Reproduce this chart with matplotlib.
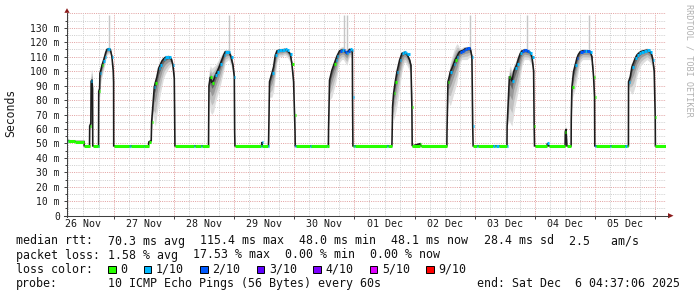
import numpy as np
import matplotlib
matplotlib.use("Agg")
import matplotlib.pyplot as plt
from matplotlib.collections import LineCollection
from matplotlib.patches import Rectangle, Polygon
from matplotlib.lines import Line2D

# ---------------- data (time in days since 26 Nov 00:00) ----------------
t = [0.226, 0.245, 0.364, 0.508, 0.512, 0.600, 0.603, 0.622, 0.627, 0.640, 0.650, 0.654,
     0.735, 0.745, 0.750,
     0.753, 0.768, 0.773, 0.790, 0.806, 0.830, 0.851, 0.870, 0.889, 0.915, 0.945, 0.972, 0.994, 1.000,
     1.002, 1.250, 1.262, 1.277, 1.290, 1.499, 1.512, 1.580,
     1.583, 1.585, 1.625, 1.632, 1.660, 1.676, 1.693, 1.720, 1.748, 1.776, 1.803, 1.830, 1.859, 1.914,
     1.958, 1.986, 2.008, 2.016,
     2.019, 2.340, 2.352, 2.450, 2.462, 2.577,
     2.580, 2.584, 2.606, 2.630, 2.661, 2.690, 2.717, 2.745, 2.772, 2.800, 2.827, 2.855, 2.911, 2.930,
     2.949, 2.983, 3.005, 3.011,
     3.016, 3.450, 3.458, 3.462, 3.472, 3.560, 3.572,
     3.575, 3.590, 3.630, 3.658, 3.686, 3.713, 3.750, 3.796, 3.840, 3.879, 3.910, 3.935, 3.962, 3.990,
     4.006, 4.014,
     4.017, 4.030, 4.270, 4.282, 4.540, 4.552, 4.568,
     4.571, 4.587, 4.626, 4.664, 4.690, 4.709, 4.730, 4.753, 4.790, 4.819, 4.845, 4.875, 4.900, 4.919,
     4.958, 4.966, 4.969,
     4.975, 4.990, 5.002, 5.540, 5.552, 5.622,
     5.624, 5.635, 5.651, 5.679, 5.707, 5.730, 5.751, 5.770, 5.790, 5.828, 5.850, 5.873, 5.917, 5.939,
     5.955,
     5.960, 6.090, 6.105, 6.536,
     6.538, 6.554, 6.575, 6.593, 6.620, 6.648, 6.675, 6.703, 6.725, 6.747, 6.780, 6.814, 6.840, 6.869,
     6.924, 6.952, 6.965,
     6.972, 7.040, 7.060, 7.300, 7.330, 7.360, 7.400, 7.530, 7.534,
     7.537, 7.574, 7.590, 7.617, 7.645, 7.670, 7.700, 7.728, 7.756, 7.783, 7.820, 7.866, 7.895, 7.922,
     7.949, 7.977, 7.986,
     7.992, 8.200, 8.205, 8.225, 8.500, 8.503, 8.515, 8.530, 8.600,
     8.602, 8.613, 8.640, 8.668, 8.696, 8.720, 8.751, 8.790, 8.834, 8.870, 8.917, 8.945, 8.973, 8.989,
     8.993, 9.010, 9.250, 9.270, 9.500, 9.520, 9.552,
     9.554, 9.582, 9.610, 9.637, 9.665, 9.690, 9.720, 9.760, 9.803, 9.859, 9.914, 9.940, 9.958, 9.980,
     9.997,
     10.000, 10.176]

median = [52.0, 52.0, 51.3, 51.3, 48.3, 48.3, 62, 64, 93, 94, 88, 48.3,
          48.3, 48.3, 48.3,
          86, 88, 98.5, 101, 104, 107, 110, 113, 115, 115.5, 115, 110, 100, 92,
          48.3, 48.3, 48.3, 48.3, 48.3, 48.3, 48.3, 48.3,
          50.5, 51, 52, 65, 80, 89, 92, 96, 102, 104.5, 107, 108.5, 109.5, 110,
          108.5, 104, 95, 58,
          48.3, 48.3, 48.3, 48.3, 48.3, 48.3,
          66, 90, 96, 92, 93.7, 97, 99.5, 102, 105, 108, 111, 113.4, 113.4, 112,
          110, 104, 96, 58,
          48.3, 48.3, 48.3, 51, 48.3, 48.3, 48.3,
          52, 92.7, 98.5, 103, 111, 114, 114.5, 114.5, 115, 114.5, 113, 112, 105, 92.6,
          69.5, 58,
          48.3, 48.3, 48.3, 48.3, 48.3, 48.3, 48.3,
          60, 93.7, 100.6, 105, 108, 110.3, 112, 114, 114.5, 114.5, 113.5, 112.7, 114, 115,
          114.5, 114, 82,
          48.3, 48.3, 48.3, 48.3, 48.3, 48.3,
          50, 76, 84.6, 92.7, 99.6, 104, 107.7, 110, 112.3, 113, 112.5, 111.8, 107.7, 104,
          75,
          48.3, 49.8, 48.3, 48.3,
          58, 92.7, 96, 99.6, 102, 105, 108, 110, 112, 113.4, 114, 114.5, 115.5, 115.7,
          115.7, 110, 62,
          48.3, 48.3, 48.3, 48.3, 48.3, 48.3, 48.3, 48.3, 48.3,
          62, 96, 96, 93, 99.6, 102, 105, 109, 112.3, 114, 114.5, 114, 113.5, 112.7,
          110, 100, 62,
          48.3, 48.3, 50, 48.3, 48.3, 58, 60, 48.3, 48.3,
          66, 89, 99.6, 104.4, 109, 111.5, 113.4, 114, 114, 114, 113.4, 110, 96, 82,
          48.3, 48.3, 48.3, 48.3, 48.3, 48.3, 48.3,
          92.7, 96, 103, 106, 109, 111, 112.3, 113.5, 114, 114.5, 113.4, 111, 107.7, 100,
          68,
          48.3, 48.3]

smoke_lo = [52.0, 52.0, 51.3, 51.3, 48.3, 48.3, 60, 60, 85, 85, 80, 48.3,
            48.3, 48.3, 48.3,
            82, 80, 90, 92, 96, 100, 104, 108, 111, 112, 112, 106, 96, 90,
            48.3, 48.3, 48.3, 48.3, 48.3, 48.3, 48.3, 48.3,
            50, 50, 50, 62, 70, 65, 62, 70, 78, 84, 90, 95, 98, 102,
            104, 98, 90, 58,
            48.3, 48.3, 48.3, 48.3, 48.3, 48.3,
            66, 80, 72, 70, 72, 78, 82, 86, 90, 95, 100, 106, 108, 106,
            104, 98, 92, 58,
            48.3, 48.3, 48.3, 50, 48.3, 48.3, 48.3,
            52, 82, 82, 86, 96, 106, 110, 110, 111, 110, 108, 106, 100, 88,
            66, 58,
            48.3, 48.3, 48.3, 48.3, 48.3, 48.3, 48.3,
            60, 80, 82, 88, 92, 96, 102, 106, 108, 108, 106, 104, 108, 110,
            110, 110, 80,
            48.3, 48.3, 48.3, 48.3, 48.3, 48.3,
            50, 70, 66, 70, 76, 82, 88, 94, 100, 106, 106, 104, 100, 98,
            72,
            48.3, 49, 48.3, 48.3,
            58, 80, 78, 76, 80, 84, 88, 92, 98, 104, 108, 108, 108, 108,
            110, 106, 60,
            48.3, 48.3, 48.3, 48.3, 48.3, 48.3, 48.3, 48.3, 48.3,
            62, 66, 64, 62, 70, 76, 82, 88, 96, 104, 108, 108, 108, 106,
            104, 96, 60,
            48.3, 48.3, 49, 48.3, 48.3, 56, 58, 48.3, 48.3,
            66, 80, 84, 88, 94, 100, 106, 108, 108, 108, 108, 106, 92, 80,
            48.3, 48.3, 48.3, 48.3, 48.3, 48.3, 48.3,
            88, 86, 84, 86, 90, 96, 100, 104, 106, 108, 106, 104, 100, 96,
            66,
            48.3, 48.3]

smoke_hi = [52.0, 52.0, 51.3, 51.3, 48.3, 48.3, 64, 68, 100, 101, 92, 48.3,
            48.3, 48.3, 48.3,
            90, 92, 102, 104, 107, 110, 112, 115, 116, 116, 116, 111, 102, 94,
            48.3, 48.3, 48.3, 48.3, 48.3, 48.3, 48.3, 48.3,
            51, 52, 53, 68, 88, 92, 96, 100, 104, 107, 108, 110, 111, 111,
            110, 106, 97, 58,
            48.3, 48.3, 48.3, 48.3, 48.3, 48.3,
            66, 100, 104, 102, 103, 104, 106, 108, 110, 112, 114, 115, 115, 114,
            112, 106, 98, 58,
            48.3, 48.3, 48.3, 52, 48.3, 48.3, 48.3,
            52, 96, 101, 105, 112, 115, 115.5, 116, 116, 115.5, 114, 113, 107, 94,
            71, 58,
            48.3, 48.3, 48.3, 48.3, 48.3, 48.3, 48.3,
            60, 96, 103, 108, 110, 112, 114, 116, 117, 117, 115, 116, 116, 116,
            115.5, 115, 84,
            48.3, 48.3, 48.3, 48.3, 48.3, 48.3,
            50, 80, 88, 95, 102, 106, 109, 111, 113, 114, 113.5, 112.5, 109, 105,
            78,
            48.3, 50, 48.3, 48.3,
            58, 96, 100, 106, 110, 114, 117, 119, 118, 116, 116, 117, 117, 117,
            117, 111, 64,
            48.3, 48.3, 48.3, 48.3, 48.3, 48.3, 48.3, 48.3, 48.3,
            62, 102, 104, 100, 104, 106, 110, 112, 114, 115, 116, 115.5, 115, 114,
            111, 102, 64,
            48.3, 48.3, 51, 48.3, 48.3, 60, 62, 48.3, 48.3,
            66, 92, 102, 106, 111, 113, 115, 115.5, 115.5, 115, 114.5, 111, 97, 84,
            48.3, 48.3, 48.3, 48.3, 48.3, 48.3, 48.3,
            95, 100, 105, 108, 111, 113, 114, 115, 115.5, 116, 115, 112, 109, 101,
            70,
            48.3, 48.3]

# loss class per sample (tenths of 10 pings); -1 = no loss stripe drawn
loss = [1, 0, 0, -1, 0, -1, 0, -1, 1, -1, -1, 0,
        1, 0, -1,
        0, -1, 1, -1, 0, 1, 1, -1, 1, 1, -1, 1, -1, -1,
        0, 1, 0, 1, 0, 1, 0, -1,
        -1, 0, -1, 0, -1, 1, 0, -1, 1, 1, -1, 1, 1, 1,
        -1, 1, -1, -1,
        0, 1, 0, 1, 0, -1,
        -1, -1, 0, 0, -1, 1, 1, -1, 1, -1, 1, 1, 1, -1,
        1, -1, 1, -1,
        0, 1, -1, 1, 0, 1, -1,
        -1, -1, 1, -1, 1, 1, 1, 1, 1, 1, -1, 1, 0, -1,
        0, -1,
        1, 0, 1, 0, 1, 0, -1,
        -1, -1, -1, 0, 1, 1, -1, 2, 1, 2, 2, 1, 2, 1,
        1, -1, 1,
        0, 1, 0, 1, 0, -1,
        -1, -1, 0, 0, 1, -1, 1, -1, 1, 1, 1, 1, -1, -1,
        0,
        0, 0, 0, -1,
        -1, 0, -1, 1, -1, 1, 0, 1, -1, 2, 2, 2, 2, 2,
        -1, 1, 1,
        0, 1, 0, 1, 0, 1, 0, 1, -1,
        -1, 0, -1, 1, -1, 1, 1, -1, 1, 2, 2, 2, 1, 1,
        1, -1, 0,
        0, -1, 1, 0, -1, 0, -1, 0, -1,
        -1, 0, -1, 1, 2, -1, 2, 2, 1, 2, 1, -1, 0, 0,
        1, 0, 1, 0, 1, 0, -1,
        1, -1, 1, -1, 1, 1, 1, 1, 1, 1, 1, -1, 1, -1,
        0,
        0, 0]

spike_t = [0.929, 2.911, 4.820, 4.875, 6.924, 7.866, 8.895]
spike_top = [139, 139, 139, 139, 139, 139, 139]

loss_labels = ["0", "1/10", "2/10", "3/10", "4/10", "5/10", "9/10"]
loss_codes = [0, 1, 2, 3, 4, 5, 9]
loss_colors = ["#26ff00", "#00b8ff", "#0059ff", "#5e00ff", "#7e00ff", "#dd00ff", "#ff0000"]

day_labels = ["26 Nov", "27 Nov", "28 Nov", "29 Nov", "30 Nov",
              "01 Dec", "02 Dec", "03 Dec", "04 Dec", "05 Dec"]
y_ticks = list(range(0, 140, 10))
y_tick_labels = ["0"] + [f"{v} m" for v in y_ticks[1:]]

legend_rtt = ["70.3 ms avg", "115.4 ms max", "48.0 ms min", "48.1 ms now", "28.4 ms sd",
              "2.5   am/s"]
legend_loss = ["1.58 % avg", "17.53 % max", "0.00 % min", "0.00 % now"]
probe_text = "10 ICMP Echo Pings (56 Bytes) every 60s"
end_text = "end: Sat Dec  6 04:37:06 2025"

# ---------------- figure ----------------
W, H = 697, 297
MONO = "DejaVu Sans Mono"
fig = plt.figure(figsize=(W / 100, H / 100), dpi=100)
fig.patch.set_facecolor("white")
X0, X1, YB, YT = 67, 666, 215.7, 13.3
ax = fig.add_axes([X0 / W, 1 - YB / H, (X1 - X0) / W, (YB - YT) / H])
ax.set_facecolor("white")
ax.set_xlim(0.226, 10.176)
ax.set_ylim(0, 140)
for s in ax.spines.values():
    s.set_visible(False)

t_a = np.array(t); m_a = np.array(median)
lo_a = np.array(smoke_lo); hi_a = np.array(smoke_hi)

# grid
minor_c, major_c = "#cfcfcf", "#e3a3a3"
for v in range(5, 141, 5):
    ax.axhline(v, color=major_c if v % 10 == 0 else minor_c, lw=0.72,
               ls=(0, (1, 1.2)), zorder=0)
for k in range(0, 44):
    xv = k * 0.25
    if 0.226 < xv < 10.176:
        ax.axvline(xv, color=major_c if k % 4 == 0 else minor_c, lw=0.72,
                   ls=(0, (1, 1.2)), zorder=0)

# smoke
shades = [(1.0, "#dedede"), (0.7, "#c0c0c0"), (0.42, "#9a9a9a"), (0.18, "#666666")]
for f, c in shades:
    ax.fill_between(t_a, m_a + f * (lo_a - m_a), m_a + f * (hi_a - m_a),
                    color=c, lw=0, zorder=1)
ax.vlines(spike_t, np.interp(spike_t, t_a, m_a), spike_top, color="#c6c6c6",
          lw=1.0, zorder=1)

# median line
ax.plot(t_a, m_a, color="#1c1c1c", lw=1.15, zorder=2, solid_joinstyle="miter")

# loss stripes
cmap = dict(zip(loss_codes, loss_colors))
segs, cols = [], []
for i in range(len(t) - 1):
    if loss[i] >= 0:
        x_end = max(t[i + 1], t[i] + 0.018)
        segs.append([(t[i], median[i]), (x_end, median[i])])
        cols.append(cmap[loss[i]])
ax.add_collection(LineCollection(segs, colors=cols, linewidths=2.2,
                                 capstyle="butt", zorder=3))

# ticks
ax.set_yticks(y_ticks)
ax.set_yticklabels(y_tick_labels, fontfamily=MONO, fontsize=7, color="#1a1a1a")
ax.set_yticks(list(range(5, 140, 10)), minor=True)
ax.set_xticks(list(range(1, 11)))
ax.set_xticklabels([""] * 10)
ax.set_xticks([d + 0.5 for d in range(10)], minor=True)
ax.set_xticklabels(day_labels, minor=True, fontfamily=MONO, fontsize=7.2, color="#1a1a1a")
ax.tick_params(axis="y", which="major", direction="out", length=2.2, width=0.7,
               color="#404040", pad=3)
ax.tick_params(axis="y", which="minor", direction="out", length=1.2, width=0.7,
               color="#404040")
ax.tick_params(axis="x", which="major", direction="out", length=2.2, width=0.7,
               color="#404040")
ax.tick_params(axis="x", which="minor", length=0, pad=2.5)

# axis lines and arrows (pixel helpers)
def P(x, y):
    return (x / W, 1 - y / H)

axc = "#404040"
fig.add_artist(Line2D([P(X0, 217)[0], P(X0, 12.5)[0]], [P(X0, 217)[1], P(X0, 12.5)[1]],
                      color=axc, lw=0.75))
fig.add_artist(Line2D([P(64, YB)[0], P(668, YB)[0]], [P(64, YB)[1], P(668, YB)[1]],
                      color=axc, lw=0.75))
arrow_c = "#8b1a1a"
fig.add_artist(Polygon([P(64.4, 12.8), P(69.6, 12.8), P(67, 8.2)], closed=True,
                       color=arrow_c, lw=0))
fig.add_artist(Polygon([P(668, 213.1), P(668, 218.3), P(673.5, YB)], closed=True,
                       color=arrow_c, lw=0))

# axis label and watermark
fig.text(11 / W, 1 - 113 / H, "Seconds", rotation=90, ha="center", va="center",
         fontfamily=MONO, fontsize=8.3, color="#1a1a1a")
fig.text(688.5 / W, 1 - 60 / H, "RRDTOOL / TOBI OETIKER", rotation=270, ha="center",
         va="center", fontfamily=MONO, fontsize=6.1, color="#b0b0b0")

# legend (rrdtool-style: items separated by a fixed gap)
FS = 8.37
ADV = 7.0   # px per character
GAP = 15.2  # px between legend items
LF = dict(fontfamily=MONO, fontsize=FS, color="#111111", va="center", ha="left")
rows_y = [241, 255, 269.3, 283.6]
VX = 107.7

def row(y, label, items):
    fig.text(16 / W, 1 - y / H, label, **LF)
    x = VX
    for s in items:
        fig.text(x / W, 1 - y / H, s, **LF)
        x += len(s) * ADV + GAP

row(rows_y[0], "median rtt:", legend_rtt)
row(rows_y[1], "packet loss:", legend_loss)
row(rows_y[3], "probe:", [probe_text])
fig.text(680 / W, 1 - rows_y[3] / H, end_text, **dict(LF, ha="right"))

fig.text(16 / W, 1 - rows_y[2] / H, "loss color:", **LF)
bx = 108.3
for lab, col in zip(loss_labels, loss_colors):
    fig.add_artist(Rectangle(P(bx, rows_y[2] + 3.6), 7.2 / W, 7.2 / H,
                             facecolor=col, edgecolor="black", lw=0.7))
    fig.text((bx + 12) / W, 1 - rows_y[2] / H, lab, **LF)
    bx += 12 + len(lab) * ADV + GAP + 1.3

fig.savefig("out.png", dpi=100, facecolor="white")
